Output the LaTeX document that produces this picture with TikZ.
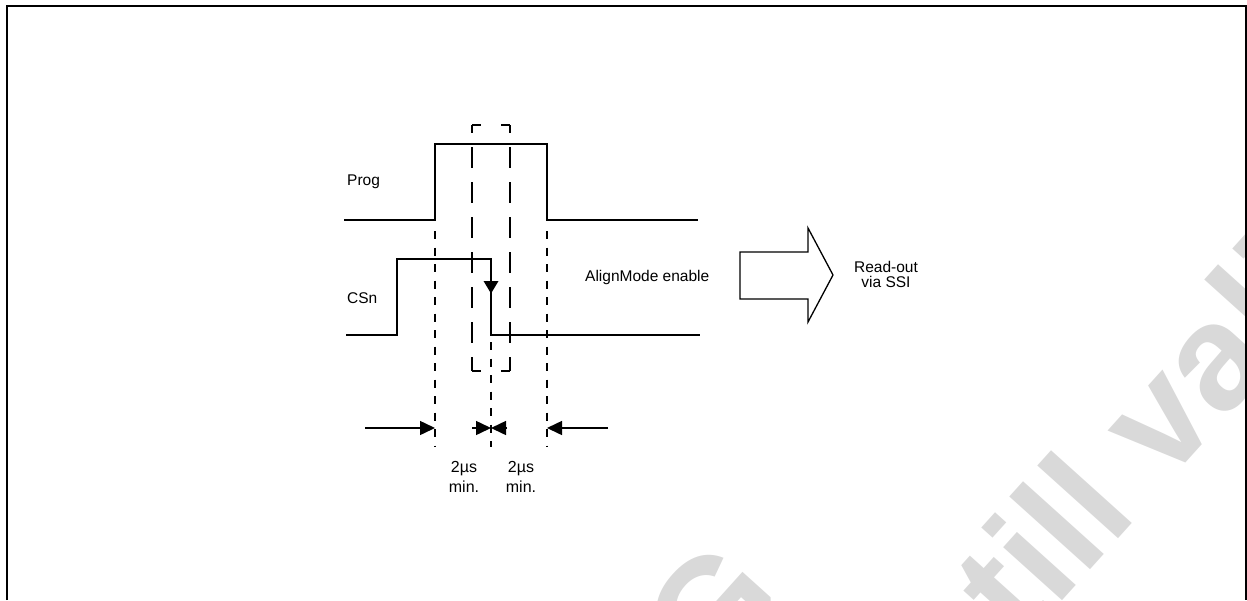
\documentclass[tikz,border=0pt]{standalone}
\usepackage{fontspec}
\setmainfont{Liberation Sans}
\usetikzlibrary{arrows.meta}
\definecolor{wmgray}{RGB}{217,217,217}
\begin{document}
\begin{tikzpicture}[x=1pt,y=-1pt,
  lbl/.style={inner sep=0pt, font=\fontsize{15.5}{18}\selectfont},
  smalllbl/.style={inner sep=0pt, font=\fontsize{16}{18}\selectfont},
  wmtext/.style={inner sep=0pt, text=wmgray, rotate=48, anchor=base west,
    font=\fontsize{150}{180}\selectfont\bfseries},
  sig/.style={line width=1.5pt, line join=miter},
  guide/.style={line width=1.8pt, dash pattern=on 8pt off 8.5pt},
  winside/.style={line width=1.8pt, dash pattern=on 21pt off 14pt, dash phase=13pt},
  wintop/.style={line width=1.8pt, dash pattern=on 9pt off 20pt},
  dimarrow/.style={line width=1.5pt, -{Triangle[length=15pt,width=14pt]}},
  blockarrow/.style={line width=1.3pt, line join=miter}
]
\useasboundingbox (0,0) rectangle (1247,600);

% watermark
\begin{scope}
  \clip (0,0) rectangle (1247,600);
  \node[wmtext] (wmA) at (711,689) {G};
  \node[wmtext] (wmB) at (966,708) {still valid};
\end{scope}

% frame
\draw[line width=2pt] (7,600) -- (7,6) -- (1246,6) -- (1246,600);

% labels
\node[lbl, anchor=base west] (lprog) at (347,185) {Prog};
\node[lbl, anchor=base west] (lcsn) at (347,303) {CSn};
\node[lbl, anchor=base west] (lalign) at (585,281) {AlignMode enable};
\node[lbl, anchor=base] (lro1) at (886,272) {Read-out};
\node[lbl, anchor=base] (lro2) at (886,287) {via SSI};
\node[smalllbl, anchor=base] (t1a) at (464,472) {2µs};
\node[smalllbl, anchor=base] (t1b) at (464,492) {min.};
\node[smalllbl, anchor=base] (t2a) at (521,472) {2µs};
\node[smalllbl, anchor=base] (t2b) at (521,492) {min.};

% signals
\draw[sig] (344,220) -- (435,220) -- (435,144) -- (547,144) -- (547,220) -- (698,220);
\draw[sig] (346,335) -- (397,335) -- (397,259) -- (491,259) -- (491,335) -- (700,335);
\fill (483.5,281) -- (498.5,281) -- (491,293.5) -- cycle;

% dashed window
\draw[wintop] (472,125) -- (510,125);
\draw[wintop] (472,371) -- (510,371);
\draw[winside] (472,125) -- (472,371);
\draw[winside] (510,125) -- (510,371);

% guide lines
\coordinate (g1t) at (435,231); \coordinate (g1b) at (435,447);
\coordinate (g2t) at (491,342); \coordinate (g2b) at (491,447);
\coordinate (g3t) at (547,231); \coordinate (g3b) at (547,447);
\draw[guide] (g1t) -- (g1b);
\draw[guide] (g2t) -- (g2b);
\draw[guide] (g3t) -- (g3b);

% dimension arrows
\coordinate (a1s) at (365,428); \coordinate (a1e) at (435,428);
\coordinate (a2s) at (472,428); \coordinate (a2e) at (491,428);
\coordinate (a3s) at (507,428);
\coordinate (a4s) at (608,428); \coordinate (a4e) at (547,428);
\draw[dimarrow] (a1s) -- (a1e);
\draw[dimarrow] (a2s) -- (a2e);
\draw[dimarrow] (a3s) -- (a2e);
\draw[dimarrow] (a4s) -- (a4e);

% block arrow
\draw[blockarrow] (740,252) -- (808,252) -- (808,228) -- (833,275) -- (808,322) -- (808,299) -- (740,299) -- cycle;
\end{tikzpicture}
\end{document}
